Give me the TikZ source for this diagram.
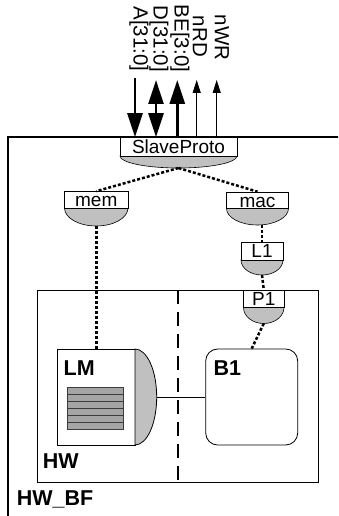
\documentclass[tikz,border=0pt]{standalone}
\usepackage{fontspec}
\setmainfont{Liberation Sans}
\usetikzlibrary{arrows.meta}
\definecolor{portgrey}{RGB}{192,192,192}
\definecolor{stripegrey}{RGB}{165,165,165}
\definecolor{stripeline}{RGB}{60,60,60}
\newcommand{\portfont}{\fontsize{19bp}{22bp}\selectfont}
\newcommand{\sigfont}{\fontsize{20.5bp}{24bp}\selectfont}
\newcommand{\boldlab}{\fontsize{21.5bp}{25bp}\selectfont\bfseries}
\newcommand{\mkport}[7]{%
 \pgfmathsetmacro{\pxc}{(#2+#3)/2}%
 \pgfmathsetmacro{\prx}{(#3-#2)/2}%
 \pgfmathsetmacro{\ph}{#6-#5}%
 \filldraw[fill=portgrey, line width=0.6bp] (#2,#5) .. controls (#2,{#5+0.552*\ph}) and ({\pxc-0.552*\prx},#6) .. (\pxc,#6) .. controls ({\pxc+0.552*\prx},#6) and (#3,{#5+0.552*\ph}) .. (#3,#5) -- cycle;
 \node[draw, fill=white, line width=0.6bp, minimum width={(#3-#2)*1bp}, minimum height={(#5-#4)*1bp}, inner sep=0pt, font=\portfont, text height=13.5bp, text depth=0bp] (#1) at (\pxc,{(#4+#5)/2}) {#7};
 \coordinate (#1-bot) at (\pxc,#6);
}
\begin{document}
\begin{tikzpicture}[x=1bp,y=-1bp,
  thinline/.style={line width=0.8bp},
  dotconn/.style={line width=2.5bp, dash pattern=on 3bp off 2bp},
  bigarrow/.style={line width=2.7bp, -{Triangle[length=24bp,width=15bp]}},
  bigboth/.style={line width=2.7bp, {Triangle[length=24bp,width=15bp]}-{Triangle[length=24bp,width=15bp]}},
  smallarrow/.style={line width=0.9bp, -{Triangle[length=13bp,width=8bp]}},
  siglabel/.style={rotate=-90, font=\sigfont, inner sep=0pt},
  boldlabel/.style={anchor=base west, inner sep=0pt, font=\boldlab}]
\useasboundingbox (0,0) rectangle (338,516);
\clip (0,0) rectangle (338,516);

% HW box and divider
\draw[thinline] (37,290) rectangle (318,482);
\draw[line width=2bp, dash pattern=on 14bp off 8bp] (178,290) -- (178,482);

% ports
\mkport{sp}{120}{237}{137.5}{156}{168}{SlaveProto}
\mkport{mem}{64.5}{128}{191.5}{208}{226}{mem}
\mkport{mac}{226.5}{288.5}{192}{208.5}{225}{mac}
\mkport{L1}{241}{283}{242}{260}{275}{L1}
\mkport{P1}{243.5}{284}{290}{307.5}{323.5}{P1}

% LM block
\node[draw, thinline, minimum width=77.3bp, minimum height=96bp, inner sep=0pt] (LM) at (96.35,397) {};
\filldraw[fill=portgrey, thinline] (135,349) .. controls (147,349) and (156.7,370.5) .. (156.7,397) .. controls (156.7,423.5) and (147,445) .. (135,445) -- cycle;
\coordinate (LM-port) at (156.7,397);
\foreach \i in {0,...,5}
  \filldraw[fill=stripegrey, draw=stripeline, line width=0.8bp] (67.7,{387+7*\i}) rectangle (123.3,{394+7*\i});

% B1 block
\node[draw, thinline, rounded corners=12bp, minimum width=92bp, minimum height=96bp, inner sep=0pt] (B1) at (251.7,397) {};

% connectors
\draw[dotconn] (sp-bot) -- (mem.north);
\draw[dotconn] (sp-bot) -- (mac.north);
\draw[dotconn] (L1.north |- mac-bot) -- (L1.north);
\draw[dotconn] (L1-bot) -- (P1.north);
\draw[dotconn] (P1-bot) -- (B1.north);
\draw[dotconn] (mem-bot) -- (mem-bot |- LM.north);
\draw[thinline] (LM-port) -- (B1.west);

% outer HW_BF box
\draw[line width=2bp] (8.3,530) -- (8.3,137.5) -- (350,137.5);

% signal arrows
\coordinate (aA) at (135,78);
\coordinate (aD) at (156,80);
\coordinate (aBE) at (177.3,80);
\coordinate (aRD) at (196.7,80);
\coordinate (aWR) at (216.7,80);
\draw[bigarrow] (aA) -- (aA |- sp.north);
\draw[bigboth] (aD) -- (aD |- sp.north);
\draw[bigarrow] (aBE |- sp.north) -- (aBE);
\draw[smallarrow] (aRD |- sp.north) -- (aRD);
\draw[smallarrow] (aWR |- sp.north) -- (aWR);

\node[siglabel] (sA) at (139,39) {A[31:0]};
\node[siglabel] (sD) at (159,39) {D[31:0]};
\node[siglabel] (sBE) at (180,38.5) {BE[3:0]};
\node[siglabel] (sRD) at (200,36.5) {nRD};
\node[siglabel] (sWR) at (222,37.5) {nWR};

% labels
\node[boldlabel] (lmlab) at (63.5,375) {LM};
\node[boldlabel] (b1lab) at (213.3,375) {B1};
\node[boldlabel] (hwlab) at (42.7,468.3) {HW};
\node[boldlabel] (hwbflab) at (16.7,505) {HW\_BF};
\end{tikzpicture}
\end{document}
